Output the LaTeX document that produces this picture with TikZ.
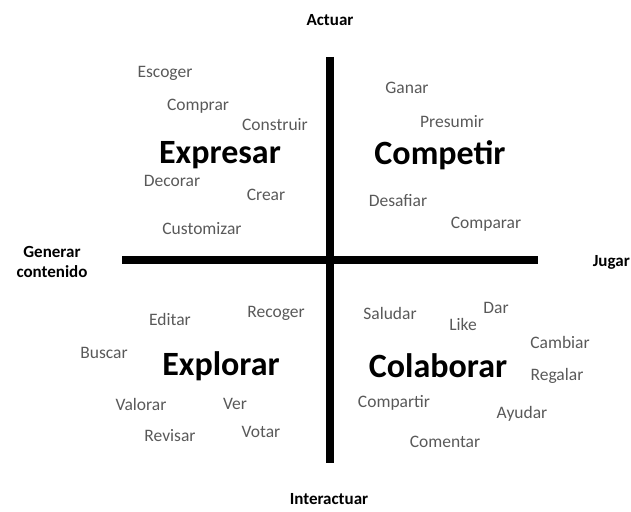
\documentclass[tikz,border=0pt]{standalone}
\usepackage{fontspec}
\setmainfont{Carlito}
\usetikzlibrary{positioning}
\definecolor{wordgray}{RGB}{89,89,89}
\tikzset{
  axislabel/.style={font=\fontsize{17}{20}\selectfont\bfseries, align=center},
  quadname/.style={font=\fontsize{34}{40}\selectfont\bfseries},
  verb/.style={font=\fontsize{17.5}{20}\selectfont, text=wordgray},
  axisline/.style={line width=8pt}
}
\begin{document}
\begin{tikzpicture}[x=1pt, y=-1pt]
    \useasboundingbox (0,0) rectangle (631,511);
    % --- Axes ---
    \coordinate (top) at (330,57);
    \coordinate (bottom) at (330,463);
    \coordinate (left) at (122,260);
    \coordinate (right) at (538,260);
    \draw[axisline] (top) -- (bottom);
    \draw[axisline] (left) -- (right);
    % --- Axis labels ---
    \node[axislabel] (actuar) at (330,20) {Actuar};
    \node[axislabel] (interactuar) at (329,499) {Interactuar};
    \node[axislabel] (generar) at (52,262) {Generar\\contenido};
    \node[axislabel, anchor=east, inner xsep=1pt] (jugar) at (631,262) {Jugar};
    % --- Quadrants ---
    \node[quadname] (expresar) at (220,155) {Expresar};
    \node[quadname] (competir) at (440,155) {Competir};
    \node[quadname] (explorar) at (221,366) {Explorar};
    \node[quadname] (colaborar) at (438,366) {Colaborar};
    % --- Verbs ---
    \foreach \name/\px/\py in {
        Escoger/165/73, Comprar/198/106, Construir/275/125,
        Decorar/172/181, Crear/266/195, Customizar/202/229,
        Ganar/407/88, Presumir/452/122, Desafiar/398/201, Comparar/486/224,
        Editar/170/319, Recoger/276/313, Buscar/104/353,
        Valorar/141/404, Ver/235/404, Revisar/170/436, Votar/261/432,
        Saludar/390/313, Like/463/324, Dar/496/308, Cambiar/560/342,
        Regalar/557/376, Compartir/394/403, Ayudar/522/414, Comentar/445/442} {
        \node[verb] (v-\name) at (\px,\py) {\name};
    }
\end{tikzpicture}
\end{document}
